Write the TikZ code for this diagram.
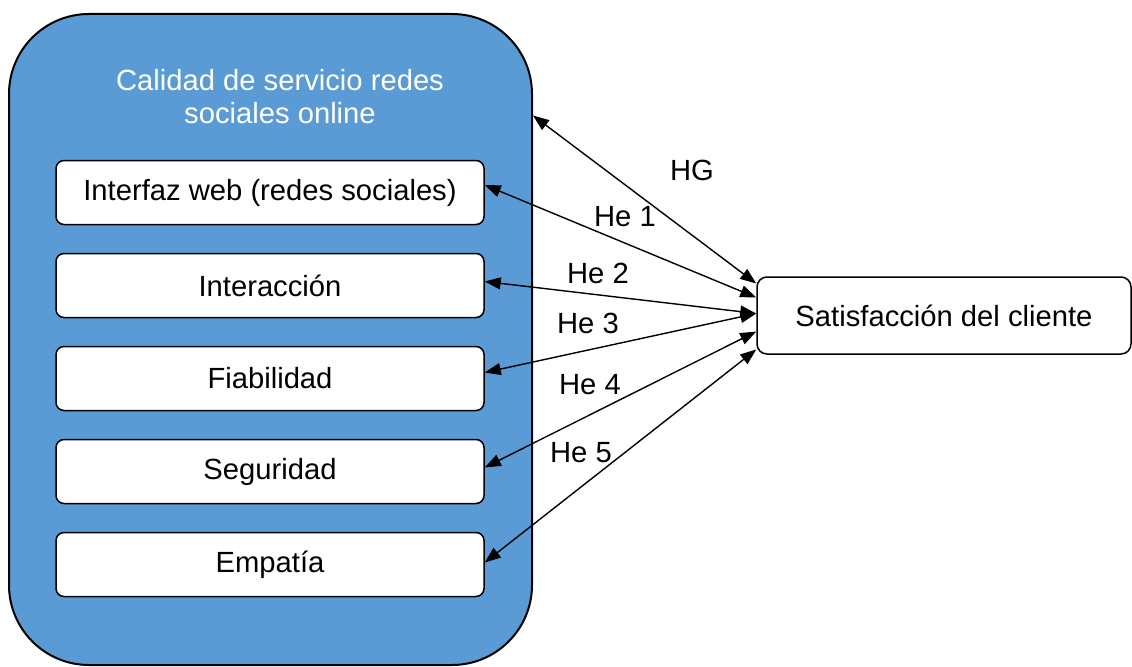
\documentclass[tikz,border=0pt]{standalone}
\usepackage{fontspec}
\setmainfont{Liberation Sans}
\usetikzlibrary{positioning,arrows.meta}
\definecolor{PanelBlue}{RGB}{91,155,213}

\begin{document}
\begin{tikzpicture}[
x=0.5pt,y=0.5pt,
node distance=13.75pt,
txt/.style={font=\fontsize{14.6}{16.5}\selectfont},
panel/.style={draw=black,line width=1pt,fill=PanelBlue,rounded corners=40pt,minimum width=261.5pt,minimum height=325.5pt},
ttl/.style={txt,text=white,align=center},
item/.style={txt,draw=black,line width=0.75pt,fill=white,rounded corners=4pt,minimum width=214pt,minimum height=32pt},
lbl/.style={txt,draw=none,fill=none},
link/.style={line width=0.7pt,{Triangle[length=8pt,width=6pt]}-{Triangle[length=8pt,width=6pt]}}
]
\useasboundingbox (0,0) rectangle (1132,666);

% left block with its five dimensions
\node[panel] (panel) at (270.5,326.5) {};
\node[ttl] (ttl) at (280,569) {Calidad de servicio redes\\sociales online};
\node[item] (web) at (270,473.5) {Interfaz web (redes sociales)};
\node[item,below=of web] (inter) {Interacción};
\node[item,below=of inter] (fiab) {Fiabilidad};
\node[item,below=of fiab] (seg) {Seguridad};
\node[item,below=of seg] (emp) {Empatía};

% outcome
\node[item,minimum width=187pt,minimum height=38.5pt,rounded corners=5pt] (client) at (944,350.5) {Satisfacción del cliente};

% hypotheses
\draw[link] ([yshift=112pt]panel.east) -- ([yshift=16pt]client.west);
\draw[link] ([yshift=3.75pt]web.east) -- ([yshift=9pt]client.west);
\draw[link] ([yshift=2pt]inter.east) -- ([yshift=1pt]client.west);
\draw[link] ([yshift=3pt]fiab.east) -- ([yshift=1pt]client.west);
\draw[link] ([yshift=2pt]seg.east) -- ([yshift=-8pt]client.west);
\draw[link] ([yshift=1pt]emp.east) -- ([yshift=-17pt]client.west);

\node[lbl] (hg) at (692,496) {HG};
\node[lbl] (he1) at (625,449) {He 1};
\node[lbl] (he2) at (598,393) {He 2};
\node[lbl] (he3) at (588,343) {He 3};
\node[lbl] (he4) at (590,281) {He 4};
\node[lbl] (he5) at (581,213) {He 5};
\end{tikzpicture}
\end{document}
